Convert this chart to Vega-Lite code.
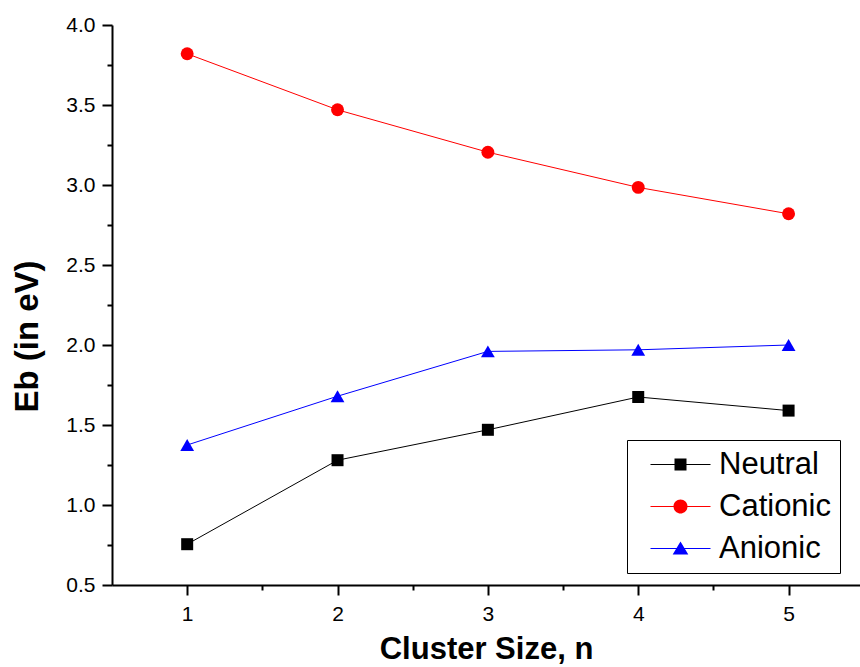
{
  "$schema": "https://vega.github.io/schema/vega-lite/v6.json",
  "autosize": {"type": "none"},
  "padding": {"left": 112, "top": 25, "right": 0, "bottom": 82},
  "width": 748,
  "height": 560,
  "background": "white",
  "config": {
    "view": {"stroke": null},
    "font": "Liberation Sans",
    "axis": {"grid": false, "domainColor": "black", "domainWidth": 2, "tickColor": "black", "tickWidth": 2, "labelColor": "black", "titleColor": "black", "labelFont": "Liberation Sans", "titleFont": "Liberation Sans", "labelFontSize": 21, "titleFontSize": 31, "titleFontWeight": "bold", "labelOverlap": false}
  },
  "data": {
    "values": [
      {"n": 1, "Eb": 0.755, "series": "Neutral"},
      {"n": 2, "Eb": 1.28, "series": "Neutral"},
      {"n": 3, "Eb": 1.47, "series": "Neutral"},
      {"n": 4, "Eb": 1.675, "series": "Neutral"},
      {"n": 5, "Eb": 1.59, "series": "Neutral"},
      {"n": 1, "Eb": 3.82, "series": "Cationic"},
      {"n": 2, "Eb": 3.47, "series": "Cationic"},
      {"n": 3, "Eb": 3.205, "series": "Cationic"},
      {"n": 4, "Eb": 2.985, "series": "Cationic"},
      {"n": 5, "Eb": 2.82, "series": "Cationic"},
      {"n": 1, "Eb": 1.375, "series": "Anionic"},
      {"n": 2, "Eb": 1.68, "series": "Anionic"},
      {"n": 3, "Eb": 1.96, "series": "Anionic"},
      {"n": 4, "Eb": 1.97, "series": "Anionic"},
      {"n": 5, "Eb": 2.0, "series": "Anionic"}
    ]
  },
  "encoding": {
    "x": {
      "field": "n", "type": "quantitative",
      "scale": {"domain": [0.5, 5.475], "nice": false, "zero": false},
      "axis": {
        "title": "Cluster Size, n",
        "values": [1, 1.5, 2, 2.5, 3, 3.5, 4, 4.5, 5],
        "labelExpr": "abs(datum.value - round(datum.value)) < 0.001 ? format(datum.value, 'd') : ''",
        "tickSize": {"condition": {"test": "abs(datum.value - round(datum.value)) < 0.001", "value": 10}, "value": 5},
        "labelFontSize": 21,
        "labelPadding": 8,
        "titlePadding": 10
      }
    },
    "y": {
      "field": "Eb", "type": "quantitative",
      "scale": {"domain": [0.5, 4.0], "nice": false, "zero": false},
      "axis": {
        "title": "Eb (in eV)",
        "values": [0.5, 0.75, 1, 1.25, 1.5, 1.75, 2, 2.25, 2.5, 2.75, 3, 3.25, 3.5, 3.75, 4],
        "labelExpr": "abs(datum.value*2 - round(datum.value*2)) < 0.001 ? format(datum.value, '.1f') : ''",
        "tickSize": {"condition": {"test": "abs(datum.value*2 - round(datum.value*2)) < 0.001", "value": 10}, "value": 5},
        "labelFontSize": 21,
        "labelPadding": 7,
        "titleFontSize": 33,
        "titleAngle": -90,
        "titleX": -75,
        "titleY": 311,
        "titleAlign": "center",
        "titleBaseline": "alphabetic"
      }
    }
  },
  "layer": [
    {
      "mark": {"type": "line", "strokeWidth": 1},
      "encoding": {
        "color": {"field": "series", "type": "nominal", "scale": {"domain": ["Neutral", "Cationic", "Anionic"], "range": ["#000000", "#ff0000", "#0000ff"]}, "legend": null}
      }
    },
    {
      "mark": {"type": "point", "filled": true, "opacity": 1},
      "encoding": {
        "color": {"field": "series", "type": "nominal", "scale": {"domain": ["Neutral", "Cationic", "Anionic"], "range": ["#000000", "#ff0000", "#0000ff"]}, "legend": null},
        "shape": {"field": "series", "type": "nominal", "scale": {"domain": ["Neutral", "Cationic", "Anionic"], "range": ["square", "circle", "triangle-up"]}, "legend": null},
        "size": {"field": "series", "type": "nominal", "scale": {"domain": ["Neutral", "Cationic", "Anionic"], "range": [144, 190, 240]}, "legend": null}
      }
    },
    {
      "transform": [{"filter": "datum.n > 100"}],
      "mark": {"type": "point", "filled": true, "opacity": 1},
      "encoding": {
        "color": {
          "field": "series", "type": "nominal",
          "scale": {"domain": ["Neutral", "Cationic", "Anionic"], "range": ["#000000", "#ff0000", "#0000ff"]},
          "legend": {
            "title": null,
            "orient": "none",
            "legendX": 515,
            "legendY": 415,
            "strokeColor": "black",
            "fillColor": "white",
            "padding": 9,
            "symbolSize": 400,
            "symbolStrokeWidth": 0,
            "symbolOffset": 29,
            "labelFont": "Liberation Sans",
            "labelFontSize": 31,
            "labelColor": "black",
            "labelOffset": 23,
            "rowPadding": 10,
            "labelLimit": 300
          }
        },
        "shape": {
          "field": "series", "type": "nominal",
          "scale": {"domain": ["Neutral", "Cationic", "Anionic"], "range": [
            "M-3,-0.05H3V0.05H-3Z M-0.6,-0.6H0.6V0.6H-0.6Z",
            "M-3,-0.05H3V0.05H-3Z M0.7,0 A0.7,0.7 0 1,1 -0.7,0 A0.7,0.7 0 1,1 0.7,0Z",
            "M-3,-0.05H3V0.05H-3Z M0,-0.7L0.78,0.6L-0.78,0.6Z"
          ]},
          "legend": {
            "title": null,
            "orient": "none",
            "legendX": 515,
            "legendY": 415,
            "strokeColor": "black",
            "fillColor": "white",
            "padding": 9,
            "symbolSize": 400,
            "symbolStrokeWidth": 0,
            "symbolOffset": 29,
            "labelFont": "Liberation Sans",
            "labelFontSize": 31,
            "labelColor": "black",
            "labelOffset": 23,
            "rowPadding": 10,
            "labelLimit": 300
          }
        }
      }
    }
  ],
  "resolve": {"scale": {"shape": "independent", "size": "independent", "color": "independent"}}
}
